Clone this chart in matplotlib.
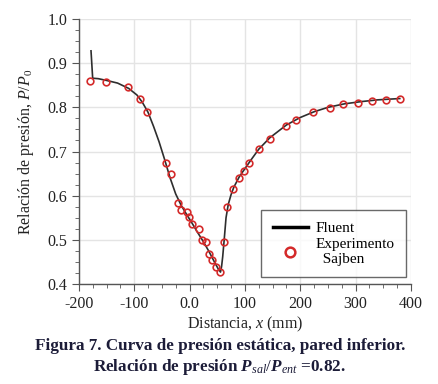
import matplotlib
matplotlib.use("Agg")

import matplotlib.pyplot as plt
from matplotlib.lines import Line2D
from matplotlib.ticker import MultipleLocator


# Fluent (simulation) curve
fluent_x = [-178, -175, -165, -150, -130, -110, -95, -85, -75, -65, -55,
            -45, -35, -25, -15, -5, 5, 15, 25, 35, 45, 52, 56,
            58, 60, 63, 66, 70, 75, 80, 90, 100, 110, 125, 145, 175,
            200, 225, 250, 280, 310, 340, 380]
fluent_y = [0.928, 0.866, 0.865, 0.861, 0.855, 0.843, 0.828, 0.811, 0.789,
            0.757, 0.722, 0.682, 0.640, 0.604, 0.578, 0.557, 0.537, 0.516,
            0.496, 0.474, 0.450, 0.434, 0.427, 0.440, 0.462, 0.505, 0.550,
            0.580, 0.602, 0.619, 0.643, 0.661, 0.679, 0.705, 0.731, 0.760,
            0.777, 0.790, 0.800, 0.808, 0.813, 0.817, 0.820]

# Sajben experiment points
exp_x = [-179, -151, -111, -90, -76, -43, -34, -21, -16, -5, -1, 5, 17,
         23, 30, 36, 41, 47, 55, 62, 67, 78, 89, 98, 107, 125, 145,
         175, 193, 223, 253, 278, 304, 330, 355, 380]
exp_y = [0.860, 0.858, 0.845, 0.818, 0.789, 0.675, 0.648, 0.584, 0.567,
         0.562, 0.551, 0.537, 0.525, 0.500, 0.496, 0.469, 0.454, 0.439,
         0.428, 0.494, 0.575, 0.616, 0.641, 0.657, 0.675, 0.706, 0.728,
         0.758, 0.771, 0.789, 0.799, 0.808, 0.811, 0.815, 0.817, 0.820]

x_ticks = [-200, -100, 0, 100, 200, 300, 400]
x_ticklabels = ["-200", "-100", "0.0", "100", "200", "300", "400"]
y_ticks = [0.4, 0.5, 0.6, 0.7, 0.8, 0.9, 1.0]
y_ticklabels = ["0.4", "0.5", "0.6", "0.7", "0.8", "0.9", "1.0"]

plt.rcParams["font.family"] = ["Liberation Serif", "DejaVu Serif"]
plt.rcParams["mathtext.fontset"] = "custom"
plt.rcParams["mathtext.it"] = "Liberation Serif:italic"
plt.rcParams["mathtext.bf"] = "Liberation Serif:bold"
plt.rcParams["mathtext.bfit"] = "Liberation Serif:bold:italic"
plt.rcParams["mathtext.rm"] = "Liberation Serif"

fig = plt.figure(figsize=(4.38, 3.84), dpi=100)
ax = fig.add_axes([0.180, 0.2604, 0.758, 0.690])

ax.plot(fluent_x, fluent_y, color="#2e2e2e", lw=1.2, zorder=3)
ax.plot(exp_x, exp_y, "o", ms=4.8, mfc="none", mec="#d42a2a", mew=1.2,
        zorder=4)

ax.set_xlim(-200, 400)
ax.set_ylim(0.4, 1.0)
ax.xaxis.set_minor_locator(MultipleLocator(25))
ax.yaxis.set_minor_locator(MultipleLocator(0.025))
ax.set_xticks(x_ticks)
ax.set_xticklabels(x_ticklabels)
ax.set_yticks(y_ticks)
ax.set_yticklabels(y_ticklabels)

ax.grid(True, which="major", color="#e4e4e4", lw=1.0)
ax.set_axisbelow(True)
for side in ["top", "right"]:
    ax.spines[side].set_visible(False)
for side in ["left", "bottom"]:
    ax.spines[side].set_color("#555555")
    ax.spines[side].set_linewidth(1.0)

ax.tick_params(which="major", direction="out", length=5, color="#555555",
               labelsize=11.5, labelcolor="#222222")
ax.tick_params(which="minor", direction="out", length=3, color="#555555")

ax.set_xlabel("Distancia, $x$ (mm)", fontsize=11.5, color="#222222",
              labelpad=2)
ax.set_ylabel("Relación de presión, $P/P_0$", fontsize=11.5,
              color="#222222", labelpad=8)

handles = [
    Line2D([], [], color="black", lw=2.5),
    Line2D([], [], ls="none", marker="o", ms=7, mfc="none", mec="#d42a2a",
           mew=1.8),
]
leg = ax.legend(handles, ["Fluent", "Experimento\n  Sajben"],
                loc="lower right", bbox_to_anchor=(0.985, 0.025),
                fontsize=11, frameon=True, fancybox=False,
                handlelength=2.3, handletextpad=0.5, borderpad=0.75,
                labelspacing=0.2, borderaxespad=0)
leg.get_frame().set_edgecolor("#444444")
leg.get_frame().set_linewidth(1.0)

cap_color = "#1c1c38"
fig.text(0.502, 0.099, "Figura 7. Curva de presión estática, pared inferior.",
         ha="center", va="center", fontsize=12.3, fontweight="bold",
         color=cap_color)
fig.text(0.502, 0.045,
         r"Relación de presión $\mathbfit{P}_{\mathit{sal}}/\mathbfit{P}_{\mathit{ent}}$ =0.82.",
         ha="center", va="center", fontsize=12.3, fontweight="bold",
         color=cap_color)

fig.savefig("out.png", dpi=100)
